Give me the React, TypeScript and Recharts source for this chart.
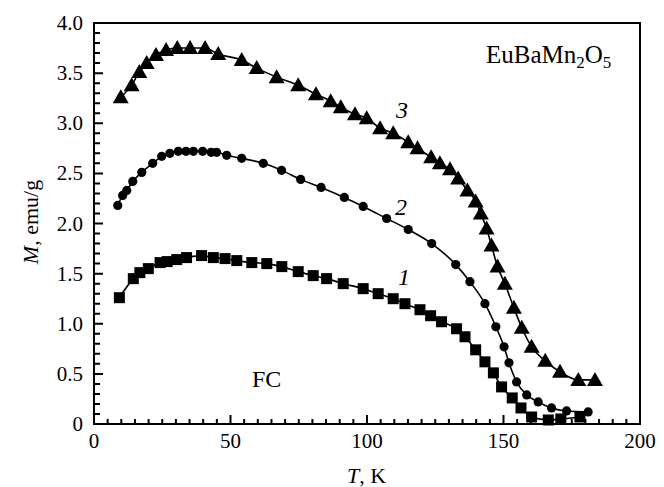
import React from "react";
import { LineChart, Line, XAxis, YAxis } from "recharts";

// curve 3 (triangles)
const tempTri = [9.8, 13.8, 16.6, 19.3, 22.7, 26.4, 30.5, 35.2, 40.7, 45.5, 54.1, 59.6, 66.9, 74.8, 81.3, 86.7, 90.4, 95.6, 99.9, 104.8, 109.6, 115.1, 118.5, 123.5, 126.7, 130.4, 133.4, 136.8, 139.8, 141.7, 143.8, 145.6, 147.8, 150.5, 153.8, 156.7, 160.3, 165.3, 170.7, 177.4, 183.5];
const magTri = [3.26, 3.38, 3.51, 3.6, 3.68, 3.73, 3.75, 3.75, 3.75, 3.69, 3.63, 3.55, 3.46, 3.38, 3.29, 3.22, 3.16, 3.09, 3.05, 2.95, 2.9, 2.81, 2.75, 2.66, 2.6, 2.54, 2.45, 2.33, 2.22, 2.1, 1.95, 1.78, 1.57, 1.4, 1.16, 0.96, 0.77, 0.63, 0.52, 0.44, 0.44];

// curve 2 (circles)
const tempCirc = [8.7, 10.5, 12.0, 14.2, 17.5, 21.5, 24.8, 27.8, 30.9, 33.7, 36.4, 39.8, 42.9, 44.9, 48.6, 54.1, 62.0, 68.7, 75.7, 83.2, 91.7, 98.6, 107.2, 115.1, 123.7, 132.5, 137.7, 143.2, 147.2, 150.2, 152.0, 154.8, 158.5, 162.7, 167.6, 173.1, 181.0];
const magCirc = [2.18, 2.28, 2.33, 2.42, 2.51, 2.6, 2.67, 2.7, 2.72, 2.72, 2.72, 2.72, 2.71, 2.71, 2.68, 2.65, 2.6, 2.53, 2.44, 2.36, 2.26, 2.17, 2.05, 1.94, 1.8, 1.59, 1.42, 1.2, 0.97, 0.77, 0.61, 0.42, 0.29, 0.22, 0.16, 0.13, 0.12];

// curve 1 (squares)
const tempSq = [9.3, 14.4, 16.8, 19.9, 24.2, 26.8, 30.3, 33.9, 39.4, 43.7, 48, 52.3, 57.8, 63.3, 68.8, 74.8, 80.3, 85.2, 91.3, 98.6, 104.1, 109.6, 113.9, 119.4, 123.3, 127.3, 132.8, 135.9, 139.8, 143.2, 146.3, 149.3, 153.2, 156.4, 160.3, 166.4, 171, 178];
const magSq = [1.26, 1.45, 1.51, 1.55, 1.61, 1.62, 1.64, 1.66, 1.68, 1.66, 1.65, 1.63, 1.61, 1.6, 1.57, 1.52, 1.48, 1.45, 1.4, 1.35, 1.3, 1.25, 1.2, 1.14, 1.08, 1.02, 0.95, 0.87, 0.74, 0.62, 0.51, 0.37, 0.26, 0.16, 0.07, 0.04, 0.05, 0.07];

const xDomain = [0, 200];
const yDomain = [0, 4];
const xMajorTicks = [0, 50, 100, 150, 200];
const yMajorTicks = [0, 0.5, 1, 1.5, 2, 2.5, 3, 3.5, 4];
const xAllTicks = Array.from({ length: 41 }, (_, i) => i * 5);
const yAllTicks = Array.from({ length: 41 }, (_, i) => i / 10);

const toRows = (t: number[], m: number[]) => t.map((T, i) => ({ T, M: m[i] }));
const triRows = toRows(tempTri, magTri);
const circRows = toRows(tempCirc, magCirc);
const sqRows = toRows(tempSq, magSq);

const FONT = "Liberation Serif, serif";

const W = 664;
const H = 487;
const margin = { top: 23, right: 24, left: 0, bottom: 0 };
const yAxisWidth = 94;
const xAxisHeight = 63;
const plotLeft = margin.left + yAxisWidth;
const plotRight = W - margin.right;
const plotTop = margin.top;
const plotBottom = H - margin.bottom - xAxisHeight;
const sx = (v: number) => plotLeft + ((v - xDomain[0]) / (xDomain[1] - xDomain[0])) * (plotRight - plotLeft);
const sy = (v: number) => plotBottom - ((v - yDomain[0]) / (yDomain[1] - yDomain[0])) * (plotBottom - plotTop);

const isMajor = (list: number[], v: number) => list.some((m) => Math.abs(m - v) < 1e-6);

function XTick(props: any) {
  const { x, y, payload } = props;
  const v = payload.value;
  if (!isMajor(xMajorTicks, v)) return <g />;
  return (
    <text x={x} y={y + 24} textAnchor="middle" fontFamily={FONT} fontSize={21} fill="#000">
      {v}
    </text>
  );
}

function YTick(props: any) {
  const { x, y, payload } = props;
  const v = payload.value;
  if (!isMajor(yMajorTicks, v)) return <g />;
  return (
    <text x={x - 11} y={y + 7} textAnchor="end" fontFamily={FONT} fontSize={21} fill="#000">
      {v === 0 ? "0" : v.toFixed(1)}
    </text>
  );
}

const triangleDot = (p: any) => {
  const { cx, cy, key } = p;
  const s = 8;
  return (
    <path key={key} d={`M${cx},${cy - s} L${cx + s},${cy + s * 0.75} L${cx - s},${cy + s * 0.75} Z`} fill="#000" />
  );
};
const circleDot = (p: any) => <circle key={p.key} cx={p.cx} cy={p.cy} r={4.6} fill="#000" />;
const squareDot = (p: any) => <rect key={p.key} x={p.cx - 5.5} y={p.cy - 5.5} width={11} height={11} fill="#000" />;

// frame + inward ticks as one path, texts
function Overlay() {
  let d = `M${plotLeft},${plotTop} L${plotRight},${plotTop} L${plotRight},${plotBottom} L${plotLeft},${plotBottom} Z`;
  xAllTicks.forEach((v) => {
    const len = isMajor(xMajorTicks, v) ? 9 : 5;
    d += ` M${sx(v)},${plotBottom} L${sx(v)},${plotBottom - len}`;
  });
  yAllTicks.forEach((v) => {
    const len = isMajor(yMajorTicks, v) ? 9 : 6;
    d += ` M${plotLeft},${sy(v)} L${plotLeft + len},${sy(v)}`;
  });
  return (
    <svg width={W} height={H} style={{ position: "absolute", left: 0, top: 0, pointerEvents: "none" }}>
      <path d={d} fill="none" stroke="#000" strokeWidth={2} />
      <g fontFamily={FONT} fill="#000">
        <text x={486} y={63} fontSize={25}>
          EuBaMn<tspan fontSize={17} dy={5}>2</tspan>
          <tspan dy={-5}>O</tspan>
          <tspan fontSize={17} dy={5}>5</tspan>
        </text>
        <text x={396} y={118} fontSize={24} fontStyle="italic">3</text>
        <text x={395} y={215} fontSize={24} fontStyle="italic">2</text>
        <text x={398} y={285} fontSize={24} fontStyle="italic">1</text>
        <text x={252} y={387} fontSize={24}>FC</text>
        <text x={347} y={483} fontSize={22}>
          <tspan fontStyle="italic">T</tspan>, K
        </text>
        <text x={38} y={222} fontSize={22} textAnchor="middle" transform="rotate(-90 38 222)">
          <tspan fontStyle="italic">M</tspan>, emu/g
        </text>
      </g>
    </svg>
  );
}

export default function App() {
  return (
    <div style={{ position: "absolute", left: 0, top: 0, width: W, height: H }}>
      <LineChart width={W} height={H} margin={margin}>
        <XAxis
          dataKey="T"
          type="number"
          domain={xDomain}
          ticks={xAllTicks}
          interval={0}
          height={xAxisHeight}
          tickSize={0}
          tickMargin={0}
          tick={<XTick />}
          stroke="#000"
        />
        <YAxis
          type="number"
          domain={yDomain}
          ticks={yAllTicks}
          interval={0}
          width={yAxisWidth}
          tickSize={0}
          tickMargin={0}
          tick={<YTick />}
          stroke="#000"
        />
        <Line data={sqRows} dataKey="M" type="monotone" stroke="#000" strokeWidth={1.6} dot={squareDot} isAnimationActive={false} />
        <Line data={circRows} dataKey="M" type="monotone" stroke="#000" strokeWidth={1.6} dot={circleDot} isAnimationActive={false} />
        <Line data={triRows} dataKey="M" type="monotone" stroke="#000" strokeWidth={1.6} dot={triangleDot} isAnimationActive={false} />
      </LineChart>
      <Overlay />
    </div>
  );
}
